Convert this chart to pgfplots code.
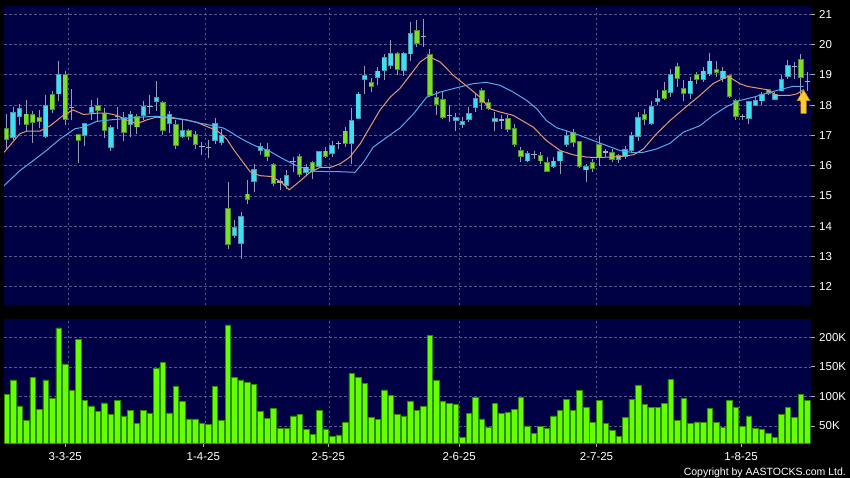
\documentclass[border=0pt]{standalone}
\usepackage{pgfplots}
\pgfplotsset{compat=1.18}
\usepackage{pgfplotstable}
\usepackage{fontspec}
\setmainfont{Liberation Sans}

\definecolor{navybg}{RGB}{0,0,68}
\definecolor{gridcol}{RGB}{88,88,140}
\definecolor{tickgrey}{RGB}{170,170,170}
\definecolor{wickcol}{RGB}{150,155,175}
\definecolor{upfill}{RGB}{60,224,240}
\definecolor{upedge}{RGB}{80,150,175}
\definecolor{dnfill}{RGB}{120,225,40}
\definecolor{dnedge}{RGB}{80,140,50}
\definecolor{dojicol}{RGB}{160,175,195}
\definecolor{volfill}{RGB}{102,255,0}
\definecolor{voledge}{RGB}{45,140,0}
\definecolor{maorange}{RGB}{232,152,110}
\definecolor{mablue}{RGB}{85,172,235}
\definecolor{arrowfill}{RGB}{255,205,40}
\definecolor{arrowedge}{RGB}{215,140,20}

\pgfdeclareplotmark{bigarrow}{%
  \pgfpathmoveto{\pgfpoint{0bp}{0bp}}%
  \pgfpathlineto{\pgfpoint{6.3bp}{-10.7bp}}%
  \pgfpathlineto{\pgfpoint{2.7bp}{-10.7bp}}%
  \pgfpathlineto{\pgfpoint{2.7bp}{-23.4bp}}%
  \pgfpathlineto{\pgfpoint{-2.7bp}{-23.4bp}}%
  \pgfpathlineto{\pgfpoint{-2.7bp}{-10.7bp}}%
  \pgfpathlineto{\pgfpoint{-6.3bp}{-10.7bp}}%
  \pgfpathclose
  \pgfusepathqfillstroke
}

% up candles (close > open): wick low, body low, body high, wick high
\pgfplotstableread{
i lo bl bh hi
1 16.85 16.95 17.74 17.95
2 17.35 17.65 17.88 18.05
6 16.90 16.99 17.98 18.33
8 18.13 18.38 18.99 19.45
12 16.64 17.00 17.37 17.42
13 17.52 17.78 17.92 18.18
16 16.50 16.60 17.23 17.35
19 16.93 17.36 17.66 17.82
21 17.50 17.67 17.95 18.15
23 17.82 18.14 18.22 18.81
25 17.08 17.42 17.68 17.80
27 16.90 16.97 17.15 17.52
32 16.73 16.86 17.38 17.56
33 16.68 16.78 16.97 17.20
35 13.62 13.71 13.93 14.20
36 12.92 13.44 14.32 14.46
38 15.14 15.50 15.87 16.05
39 16.35 16.53 16.61 16.75
43 15.22 15.37 15.67 15.85
46 15.67 15.80 15.94 16.05
48 15.93 16.00 16.44 16.50
50 16.28 16.41 16.66 16.83
53 16.07 16.74 17.49 17.91
54 17.54 17.58 18.35 18.42
55 18.38 18.87 18.97 19.28
57 18.65 18.92 19.11 19.26
58 18.82 19.15 19.57 19.68
59 19.20 19.31 19.70 20.15
61 18.95 19.16 19.70 19.76
62 19.45 19.70 20.35 20.75
69 17.14 17.51 17.58 17.74
70 17.23 17.36 17.43 17.60
71 17.45 17.53 17.71 17.95
72 17.76 17.93 18.21 18.38
75 17.16 17.47 17.55 17.77
80 16.11 16.17 16.39 16.50
84 15.92 16.00 16.14 16.28
85 15.74 16.17 16.44 16.50
86 16.61 16.72 16.99 17.16
89 15.45 15.87 15.97 16.06
94 16.10 16.23 16.31 16.40
95 16.22 16.33 16.51 16.66
96 16.44 16.52 16.98 17.10
97 16.80 16.99 17.57 17.77
99 17.33 17.42 17.95 18.15
100 17.99 18.12 18.21 18.49
102 18.27 18.42 19.00 19.20
105 18.21 18.41 18.78 18.92
107 18.76 18.87 19.11 19.25
108 18.97 19.04 19.44 19.72
110 18.76 18.90 19.11 19.25
114 17.38 17.58 18.09 18.15
115 17.96 18.01 18.15 18.26
116 18.00 18.15 18.34 18.43
118 18.16 18.21 18.34 18.43
119 18.48 18.48 18.84 18.98
120 18.87 18.95 19.28 19.50
}\upc

% down candles (close < open)
\pgfplotstableread{
i lo bl bh hi
0 16.52 16.87 17.20 17.72
3 17.13 17.37 17.69 18.18
4 16.74 17.44 17.66 17.82
5 17.24 17.48 17.56 17.85
7 17.74 17.88 18.32 18.46
9 17.35 17.53 18.99 19.12
11 16.10 16.86 17.00 17.05
14 17.46 17.85 17.98 18.24
15 16.91 17.17 17.72 17.91
18 16.82 17.12 17.58 17.77
20 17.05 17.29 17.60 17.72
24 17.00 17.17 18.08 18.15
26 16.55 16.67 17.33 17.50
28 16.85 16.98 17.15 17.20
29 16.55 16.70 17.02 17.15
34 13.25 13.42 14.58 15.46
37 14.75 14.91 15.05 15.52
40 16.17 16.33 16.52 16.75
41 15.33 15.42 16.03 16.10
45 15.62 15.72 16.30 16.38
47 15.55 15.83 16.10 16.16
49 16.26 16.32 16.47 16.61
52 16.61 16.74 17.13 17.27
56 18.42 18.64 18.74 18.88
60 18.98 19.20 19.70 19.76
63 19.92 20.05 20.44 20.82
65 18.28 18.32 19.64 19.86
66 17.66 18.04 18.24 18.48
67 17.55 17.60 18.18 18.45
73 17.83 18.10 18.46 18.57
74 17.83 17.91 18.08 18.20
77 17.11 17.22 17.55 17.66
78 16.61 16.70 17.22 17.38
79 16.11 16.33 16.50 16.61
82 16.05 16.17 16.33 16.44
83 15.78 15.83 16.08 16.28
87 16.61 16.77 17.07 17.22
88 15.92 16.00 16.77 16.83
90 15.80 15.92 16.08 16.22
91 16.00 16.28 16.68 16.97
93 16.11 16.22 16.41 16.55
98 17.33 17.55 17.68 17.88
101 18.18 18.24 18.47 18.75
103 18.58 18.90 19.27 19.40
104 18.13 18.41 18.54 18.84
106 18.71 18.87 18.98 19.10
109 18.94 19.08 19.17 19.46
111 18.22 18.31 18.95 19.00
112 17.50 17.65 18.13 18.20
117 18.32 18.39 18.51 18.54
122 18.11 18.92 19.48 19.68
}\dnc

% doji (open = close)
\pgfplotstableread{
i lo c hi
10 17.50 17.92 18.52
17 17.22 17.62 17.93
22 17.72 17.96 18.33
30 16.35 16.62 16.79
31 16.24 16.60 16.84
42 15.20 15.46 15.58
44 15.78 16.13 16.27
51 16.55 16.72 16.83
64 19.92 20.27 20.85
68 17.45 17.66 18.00
76 17.22 17.51 17.66
81 16.22 16.36 16.50
92 16.30 16.45 16.55
113 17.50 17.62 17.72
121 18.87 19.28 19.43
123 18.48 18.79 19.10
}\dojic

% orange moving average
\pgfplotstableread{
x y
-0.4 16.44
2.0 17.05
3.1 17.14
5.1 17.14
6.7 17.32
8.7 17.66
10.2 17.84
11.8 17.69
13.8 17.73
15.4 17.73
16.9 17.66
18.4 17.51
20.0 17.38
21.5 17.51
23.0 17.60
24.6 17.58
26.1 17.55
27.6 17.51
29.2 17.43
31.0 17.27
32.3 17.16
33.8 16.88
34.8 16.55
36.1 16.17
37.4 15.80
38.9 15.67
40.7 15.64
42.2 15.45
43.4 15.20
45.1 15.50
46.6 15.78
48.1 15.94
49.7 15.94
51.2 16.06
52.7 16.28
54.3 16.72
55.8 17.27
57.3 17.82
58.9 18.26
60.4 18.55
61.95 18.98
63.5 19.42
64.8 19.61
66.6 19.42
68.6 18.98
70.7 18.62
72.7 18.26
74.2 17.88
75.8 17.77
77.8 17.66
80.9 17.27
82.9 16.83
85.0 16.50
87.0 16.36
89.1 16.28
91.1 16.27
94.2 16.30
96.3 16.36
97.8 16.55
99.8 17.05
101.9 17.49
104.4 17.95
106.5 18.32
108.5 18.71
110.8 18.95
112.6 18.71
113.7 18.62
116.7 18.51
118.3 18.32
120.3 18.32
121.4 18.37
122.4 18.51
}\maA

% blue moving average
\pgfplotstableread{
x y
-0.4 15.34
2.0 15.83
4.1 16.17
6.1 16.50
8.2 16.88
10.5 17.22
11.8 17.27
13.8 17.46
15.9 17.51
17.9 17.55
20.5 17.60
23.0 17.63
25.1 17.60
27.6 17.51
29.7 17.40
31.2 17.34
33.3 17.24
34.0 17.16
36.1 16.88
38.1 16.66
40.2 16.50
42.5 16.22
44.5 16.00
46.6 15.86
47.6 15.81
51.2 15.80
53.5 15.78
54.8 16.11
56.3 16.61
58.4 16.94
60.4 17.24
62.5 17.71
64.5 18.26
66.6 18.43
69.1 18.57
71.7 18.71
73.7 18.75
75.8 18.65
77.8 18.43
79.9 18.15
81.4 17.88
82.9 17.49
84.5 17.25
87.0 17.08
89.6 16.87
92.2 16.66
94.2 16.50
96.3 16.43
97.8 16.44
99.8 16.55
101.9 16.74
103.9 17.10
106.5 17.32
108.5 17.66
110.6 17.95
112.6 18.15
114.7 18.26
116.7 18.39
118.8 18.51
120.8 18.62
122.4 18.62
}\maB

% volume (thousands)
\pgfplotstableread{
i v
0 104
1 128
2 84
3 60
4 132
5 78
6 128
7 97
8 216
9 155
10 110
11 196
12 93
13 84
14 75
15 89
16 70
17 93
18 67
19 77
20 54
21 77
22 71
23 148
24 158
25 72
26 117
27 92
28 62
29 62
30 55
31 53
32 117
33 60
34 221
35 132
36 128
37 123
38 121
39 75
40 63
41 79
42 46
43 46
44 67
45 70
46 44
47 36
48 77
49 45
50 32
51 35
52 56
53 139
54 132
55 122
56 65
57 61
58 111
59 101
60 69
61 67
62 91
63 77
64 83
65 203
66 127
67 91
68 88
69 87
70 30
71 71
72 98
73 62
74 47
75 88
76 71
77 73
78 78
79 98
80 50
81 38
82 49
83 46
84 67
85 77
86 95
87 76
88 110
89 81
90 56
91 93
92 54
93 43
94 33
95 65
96 95
97 118
98 86
99 81
100 81
101 88
102 129
103 60
104 97
105 54
106 57
107 56
108 80
109 56
110 48
111 93
112 82
113 49
114 67
115 46
116 44
117 37
118 30
119 69
120 81
121 65
122 103
123 93
}\vol

\pgfplotsset{
  chartbase/.style={
    scale only axis, width=806.7bp,
    xmin=-0.41, xmax=123.5,
    axis background/.style={fill=navybg},
    axis line style={draw=none},
    tick align=outside, major tick length=4bp,
    ytick pos=right, yticklabel pos=right,
    tick style={draw=tickgrey, line width=0.8bp},
    major grid style={draw=gridcol, line width=0.7bp, dash pattern=on 2.5bp off 2.5bp},
    ticklabel style={font=\fontsize{11.5bp}{13bp}\selectfont, text=white},
    /pgf/number format/assume math mode=true,
  },
  wickstyle/.style={draw=none, mark=none, forget plot,
    error bars/.cd, y dir=plus, y explicit, error mark=none,
    error bar style={draw=wickcol, line width=1bp, solid}},
  bodystyle/.style n args={2}{draw=none, mark=none, forget plot,
    error bars/.cd, y dir=plus, y explicit, error mark=none,
    error bar style={draw=#1, line width=#2, solid, line cap=butt}},
}

\begin{document}
\begin{tikzpicture}
\useasboundingbox (0,0) rectangle (850bp,-478bp);
\fill[black] (0,0) rectangle (850bp,-478bp);

% ---------------- price panel ----------------
\begin{axis}[chartbase,
  at={(4bp,-6bp)}, anchor=north west, height=299bp,
  ymin=11.40, ymax=21.27,
  ytick={12,13,...,21},
  xtick={9.5,30.5,49.5,69.5,90.5,112.5}, xticklabels={},
  x tick style={draw=none},
  xmajorgrids=true, ymajorgrids=true,
  yticklabel style={xshift=1bp},
]
% wicks
\addplot[wickstyle] table[x=i, y=lo, y error expr=\thisrow{hi}-\thisrow{lo}] {\upc};
\addplot[wickstyle] table[x=i, y=lo, y error expr=\thisrow{hi}-\thisrow{lo}] {\dnc};
\addplot[wickstyle] table[x=i, y=lo, y error expr=\thisrow{hi}-\thisrow{lo}] {\dojic};
% bodies: edge then fill
\addplot[bodystyle={upedge}{5.4bp}] table[x=i, y expr=\thisrow{bl}-0.03, y error expr=\thisrow{bh}-\thisrow{bl}+0.06] {\upc};
\addplot[bodystyle={upfill}{3.6bp}] table[x=i, y=bl, y error expr=\thisrow{bh}-\thisrow{bl}] {\upc};
\addplot[bodystyle={dnedge}{5.4bp}] table[x=i, y expr=\thisrow{bl}-0.03, y error expr=\thisrow{bh}-\thisrow{bl}+0.06] {\dnc};
\addplot[bodystyle={dnfill}{3.6bp}] table[x=i, y=bl, y error expr=\thisrow{bh}-\thisrow{bl}] {\dnc};
\addplot[bodystyle={dojicol}{5.4bp}] table[x=i, y expr=\thisrow{c}-0.02, y error expr=0.04] {\dojic};
% moving averages
\addplot[maorange, line width=1bp, line join=round, mark=none] table[x=x, y=y] {\maA};
\addplot[mablue, line width=1bp, line join=round, mark=none] table[x=x, y=y] {\maB};
% arrow marker at the last value
\addplot[only marks, mark=bigarrow, mark options={fill=arrowfill, draw=arrowedge, line width=0.6bp}] coordinates {(122.4,18.50)};
\end{axis}

% ---------------- volume panel ----------------
\begin{axis}[chartbase,
  at={(4bp,-319bp)}, anchor=north west, height=124.3bp,
  ymin=20.7, ymax=231,
  ybar, bar width=0.85,
  ytick={50,100,150,200}, yticklabels={50K,100K,150K,200K},
  ymajorgrids=true, xmajorgrids=false,
  xtick={9.0,30.2,49.4,69.5,90.6,112.8},
  xticklabels={3-3-25,1-4-25,2-5-25,2-6-25,2-7-25,1-8-25},
  xtick pos=left,
  xticklabel style={yshift=-2bp},
  yticklabel style={xshift=1bp},
  extra x ticks={9.5,30.5,49.5,69.5,90.5,112.5},
  extra x tick labels={},
  extra x tick style={xmajorgrids=true, major tick length=0pt, tick style={draw=none}},
]
\addplot[fill=volfill, draw=voledge, line width=0.7bp] table[x=i, y=v] {\vol};
\end{axis}

\node[anchor=base east, inner sep=0pt, text=white, font=\fontsize{10.5bp}{12bp}\selectfont] at (846bp,-475.5bp) {Copyright by AASTOCKS.com Ltd.};
\end{tikzpicture}
\end{document}
